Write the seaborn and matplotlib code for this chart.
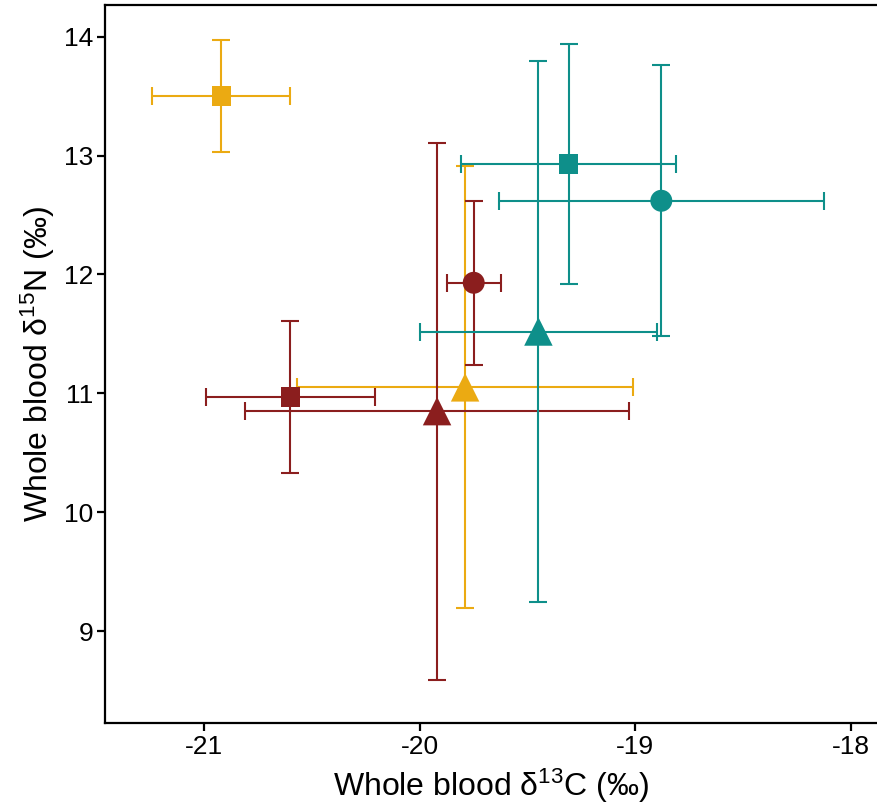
import matplotlib
matplotlib.use("Agg")
import matplotlib.pyplot as plt
import pandas as pd
import seaborn as sns

# mean +/- SD for each group
colour_group = ["gold", "gold", "red", "red", "red", "teal", "teal", "teal"]
shape_group = ["square", "triangle", "square", "triangle", "circle", "square", "circle", "triangle"]
d13c = [-20.92, -19.79, -20.60, -19.92, -19.75, -19.31, -18.88, -19.45]
d13c_sd = [0.32, 0.78, 0.39, 0.89, 0.125, 0.50, 0.755, 0.55]
d15n = [13.50, 11.05, 10.97, 10.85, 11.93, 12.93, 12.62, 11.52]
d15n_sd = [0.47, 1.86, 0.64, 2.26, 0.69, 1.01, 1.14, 2.28]

x_ticks = [-21, -20, -19, -18]
y_ticks = [9, 10, 11, 12, 13, 14]

palette = {"gold": "#EBAA12", "red": "#8B1E1E", "teal": "#0E8F8A"}
markers = {"square": "s", "circle": "o", "triangle": "^"}
marker_area = {"square": 195, "circle": 250, "triangle": 420}

df = pd.DataFrame({
    "colour": colour_group,
    "shape": shape_group,
    "d13c": d13c,
    "d13c_sd": d13c_sd,
    "d15n": d15n,
    "d15n_sd": d15n_sd,
})

sns.set_theme(style="ticks")
plt.rcParams["font.family"] = ["Liberation Sans", "DejaVu Sans"]
plt.rcParams["mathtext.fontset"] = "custom"
plt.rcParams["mathtext.rm"] = "Liberation Sans"
plt.rcParams["mathtext.it"] = "Liberation Sans:italic"

fig = plt.figure(figsize=(8.78, 8.09), dpi=100)
ax = fig.add_axes([0.1196, 0.1063, 0.8804, 0.8875])

# error bars first so the symbols sit on top
for _, row in df.iterrows():
    ax.errorbar(
        row["d13c"], row["d15n"],
        xerr=row["d13c_sd"], yerr=row["d15n_sd"],
        fmt="none", ecolor=palette[row["colour"]],
        elinewidth=1.5, capsize=6.5, capthick=1.5, zorder=2,
    )

for shape, sub in df.groupby("shape"):
    sns.scatterplot(
        data=sub, x="d13c", y="d15n", hue="colour", palette=palette,
        marker=markers[shape], s=marker_area[shape], linewidth=0,
        legend=False, ax=ax, zorder=3,
    )

ax.set_xlim(-21.46, -17.875)
ax.set_ylim(8.226, 14.267)
ax.set_xticks(x_ticks)
ax.set_yticks(y_ticks)
ax.set_xticklabels([str(t) for t in x_ticks])
ax.set_yticklabels([str(t) for t in y_ticks])

ax.set_xlabel("Whole blood δ$^{13}$C (‰)", fontsize=23, labelpad=6, color="black")
ax.set_ylabel("Whole blood δ$^{15}$N (‰)", fontsize=23, labelpad=5, color="black")

ax.tick_params(axis="both", labelsize=19, length=5.5, width=1.6,
               pad=3, colors="black", direction="out")
for side in ["left", "bottom", "top"]:
    ax.spines[side].set_linewidth(1.6)
    ax.spines[side].set_color("black")
ax.spines["right"].set_visible(False)

fig.savefig("out.png", dpi=100)
plt.close(fig)
